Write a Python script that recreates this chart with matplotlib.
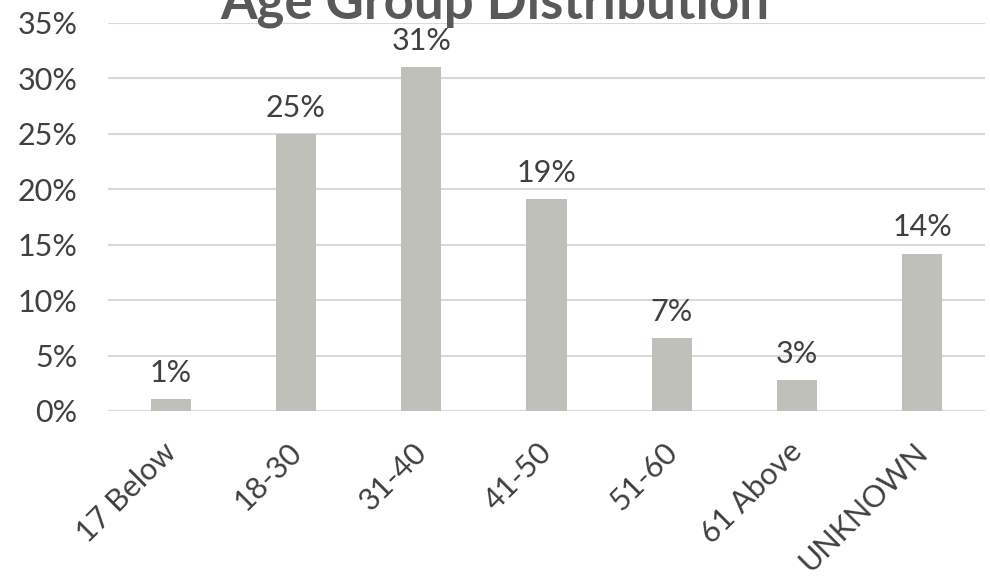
import matplotlib.pyplot as plt
import matplotlib.transforms as mtransforms

categories = ['17 Below', '18-30', '31-40', '41-50', '51-60', '61 Above', 'UNKNOWN']
shares = [1.1, 25.0, 31.0, 19.1, 6.6, 2.8, 14.2]
bar_labels = ['1%', '25%', '31%', '19%', '7%', '3%', '14%']
y_ticks = [0, 5, 10, 15, 20, 25, 30, 35]

plt.rcParams['font.family'] = ['Lato', 'DejaVu Sans']

fig = plt.figure(figsize=(9.9, 5.79), dpi=100)
ax = fig.add_axes([108 / 990, 1 - 411 / 579, 877 / 990, 388 / 579])

x = range(len(categories))
bars = ax.bar(x, shares, width=0.32, color='#bfc0ba', zorder=2)
for b, lab in zip(bars, bar_labels):
    ax.text(b.get_x() + b.get_width() / 2, b.get_height() + 1.1, lab,
            ha='center', va='bottom', fontsize=22, color='#404040')

ax.set_xlim(-0.5, len(categories) - 0.5)
ax.set_ylim(0, 35)
ax.set_yticks(y_ticks)
ax.set_yticklabels([f'{t}%' for t in y_ticks], fontsize=22, color='#404040')
ax.set_xticks(list(x))
ax.set_xticklabels(categories, rotation=45, ha='right', rotation_mode='anchor',
                   fontsize=22, color='#404040')
ax.tick_params(length=0, axis='y', pad=22)
ax.tick_params(length=0, axis='x', pad=19)
# nudge rotated labels so their ends sit over the bar centres
shift = mtransforms.ScaledTranslation(-0.09, 0, fig.dpi_scale_trans)
for t in ax.get_xticklabels():
    t.set_transform(t.get_transform() + shift)
ax.grid(axis='y', color='#d9d9d9', linewidth=1.5, zorder=0)
for s in ax.spines.values():
    s.set_visible(False)

fig.text(0.5, 1 - 19 / 579, 'Age Group Distribution', ha='center', va='baseline',
         fontsize=38, fontweight='bold', color='#595959')

fig.savefig('out.png', dpi=100)
